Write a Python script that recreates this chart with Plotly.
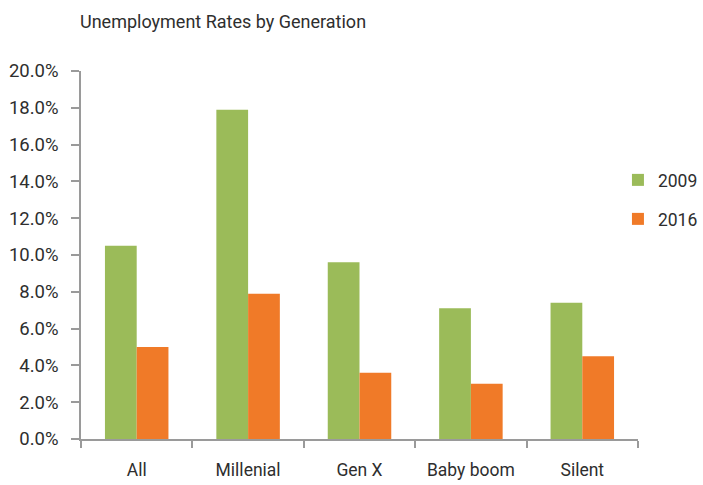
import plotly.graph_objects as go

# Unemployment rate (%) by generation, 2009 vs 2016
generations = ["All", "Millenial", "Gen X", "Baby boom", "Silent"]
years = ["2009", "2016"]
rate_2009 = [10.5, 17.9, 9.6, 7.1, 7.4]
rate_2016 = [5.0, 7.9, 3.6, 3.0, 4.5]
y_ticks = [0, 2, 4, 6, 8, 10, 12, 14, 16, 18, 20]

colors = {"2009": "#9bbb59", "2016": "#f07a28"}
FONT = "Roboto, Liberation Sans, sans-serif"
TEXT = "#2e2e2e"
AXIS = "#9a9a9a"

fig = go.Figure()
legend_ids = ["legend", "legend2"]
for year, vals, lg in zip(years, [rate_2009, rate_2016], legend_ids):
    fig.add_trace(go.Bar(
        x=generations, y=vals, name=year, legend=lg,
        marker=dict(color=colors[year], line=dict(width=0)),
    ))

legend_style = dict(
    xref="paper", yref="paper", x=0.964, xanchor="left", yanchor="middle",
    font=dict(family=FONT, size=17.5, color=TEXT),
    itemwidth=30, bgcolor="rgba(0,0,0,0)", borderwidth=0,
)

fig.update_layout(
    width=703, height=485,
    margin=dict(l=81, r=65, t=71, b=46, autoexpand=False),
    paper_bgcolor="white", plot_bgcolor="white",
    barmode="group", bargap=0.43, bargroupgap=0,
    font=dict(family=FONT, size=17.5, color=TEXT),
    title=dict(
        text="Unemployment Rates by Generation",
        xref="container", x=80 / 703, xanchor="left",
        yref="container", y=1 - 22 / 485, yanchor="middle",
        font=dict(family=FONT, size=18, color=TEXT),
    ),
    legend=dict(legend_style, y=(439 - 180) / 368),
    legend2=dict(legend_style, y=(439 - 219) / 368),
    showlegend=True,
)

fig.update_xaxes(
    type="category", showgrid=False, zeroline=False, automargin=False,
    showline=True, linecolor=AXIS, linewidth=1.5,
    ticks="outside", tickson="boundaries", ticklen=7,
    tickcolor=AXIS, tickwidth=1.5, tickangle=0,
    ticklabelstandoff=14,
)
fig.update_yaxes(
    range=[0, 20], tickvals=y_ticks,
    ticktext=[f"{v:.1f}%" for v in y_ticks],
    showgrid=False, zeroline=False, automargin=False,
    showline=True, linecolor=AXIS, linewidth=1.5,
    ticks="outside", ticklen=8, tickcolor=AXIS, tickwidth=1.5,
    ticklabelstandoff=9,
    tickfont=dict(family=FONT, size=18.5, color=TEXT),
)

fig.write_html("out.html")
